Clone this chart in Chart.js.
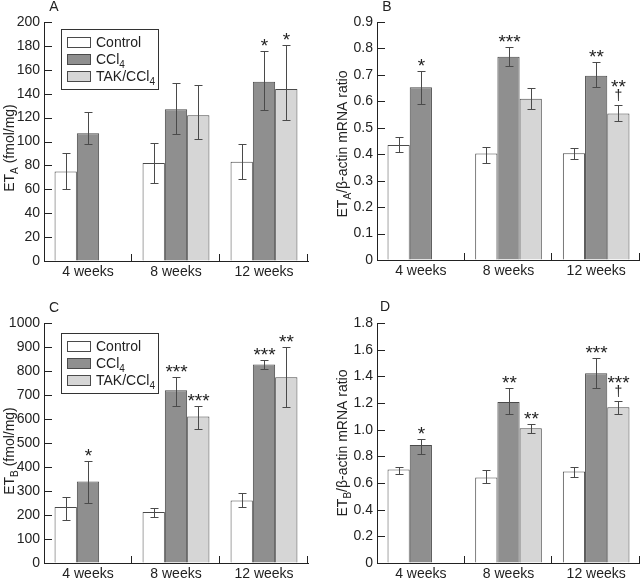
<!DOCTYPE html>
<html>
<head>
<meta charset="utf-8">
<script src="https://cdn.jsdelivr.net/npm/chart.js@4.4.0/dist/chart.umd.min.js"></script>
<style>
  html, body { margin: 0; padding: 0; background: #fff; }
  #fig { position: relative; width: 640px; height: 578px; overflow: hidden; }
  .panel { position: absolute; width: 320px; height: 289px; }
</style>
</head>
<body>
<div id="fig">
  <div class="panel" style="left:0;top:0"><canvas id="chartA" width="320" height="289"></canvas></div>
  <div class="panel" style="left:320px;top:0"><canvas id="chartB" width="320" height="289"></canvas></div>
  <div class="panel" style="left:0;top:289px"><canvas id="chartC" width="320" height="289"></canvas></div>
  <div class="panel" style="left:320px;top:289px"><canvas id="chartD" width="320" height="289"></canvas></div>
</div>
<script>
// Dane wspólne
const categories = ['4 weeks', '8 weeks', '12 weeks'];
const groupLabels = ['Control', 'CCl_4', 'TAK/CCl_4'];   // "_" = indeks dolny
const groupColors = ['#ffffff', '#8f8f8f', '#d6d6d6'];

// Panel A - ETA (fmol/mg)
const aControl = [75, 82, 83];
const aCCl4 = [107, 127, 150];
const aTak = [null, 122, 144];
const aLow = [[60, 65, 69], [98, 106, 126], [null, 102, 118]];
const aHigh = [[90, 99, 98], [125, 149, 176], [null, 147, 181]];
const aStars = [['', '', ''], ['', '', '*'], ['', '', '*']];
const aDaggers = [['', '', ''], ['', '', ''], ['', '', '']];

// Panel B - ETA/beta-actin mRNA
const bControl = [0.435, 0.403, 0.404];
const bCCl4 = [0.653, 0.769, 0.697];
const bTak = [null, 0.61, 0.554];
const bLow = [[0.408, 0.366, 0.382], [0.591, 0.735, 0.653], [null, 0.57, 0.525]];
const bHigh = [[0.464, 0.429, 0.425], [0.716, 0.807, 0.748], [null, 0.65, 0.585]];
const bStars = [['', '', ''], ['*', '***', '**'], ['', '', '**']];
const bDaggers = [['', '', ''], ['', '', ''], ['', '', '†']];

// Panel C - ETB (fmol/mg)
const cControl = [233, 213, 260];
const cCCl4 = [340, 720, 827];
const cTak = [null, 610, 774];
const cLow = [[178, 191, 234], [252, 656, 808], [null, 557, 648]];
const cHigh = [[276, 231, 290], [426, 774, 844], [null, 653, 900]];
const cStars = [['', '', ''], ['*', '***', '***'], ['', '***', '**']];
const cDaggers = [['', '', ''], ['', '', ''], ['', '', '']];

// Panel D - ETB/beta-actin mRNA
const dControl = [0.702, 0.642, 0.687];
const dCCl4 = [0.885, 1.208, 1.424];
const dTak = [null, 1.01, 1.168];
const dLow = [[0.669, 0.597, 0.642], [0.817, 1.116, 1.311], [null, 0.973, 1.118]];
const dHigh = [[0.719, 0.694, 0.717], [0.93, 1.311, 1.537], [null, 1.043, 1.213]];
const dStars = [['', '', ''], ['*', '**', '***'], ['', '**', '***']];
const dDaggers = [['', '', ''], ['', '', ''], ['', '', '†']];

const FONT = "'Liberation Sans', Arial, sans-serif";
const INK = '#222';

// Tekst z indeksem dolnym: znak po "_" jest indeksem
function richParts(str) {
    const parts = [];
    let buf = '';
    for (let i = 0; i < str.length; i++) {
        if (str[i] === '_' && i + 1 < str.length) {
            if (buf) parts.push([buf, false]);
            buf = '';
            parts.push([str[i + 1], true]);
            i++;
        } else {
            buf += str[i];
        }
    }
    if (buf) parts.push([buf, false]);
    return parts;
}

function richWidth(ctx, str, size) {
    let w = 0;
    richParts(str).forEach(([t, sub]) => {
        ctx.font = (sub ? Math.round(size * 0.72) : size) + 'px ' + FONT;
        w += ctx.measureText(t).width;
    });
    return w;
}

function drawRich(ctx, str, x, y, size) {
    ctx.textAlign = 'left';
    ctx.textBaseline = 'alphabetic';
    richParts(str).forEach(([t, sub]) => {
        ctx.font = (sub ? Math.round(size * 0.72) : size) + 'px ' + FONT;
        ctx.fillText(t, x, sub ? y + size * 0.3 : y);
        x += ctx.measureText(t).width;
    });
}

function line(ctx, x1, y1, x2, y2) {
    ctx.beginPath();
    ctx.moveTo(x1, y1);
    ctx.lineTo(x2, y2);
    ctx.stroke();
}

// Dekoracje: ząbki osi, słupki błędów, gwiazdki, legenda, tytuł osi, litera panelu
const decorPlugin = {
    id: 'decor',
    afterDatasetsDraw(chart) {
        const p = chart.options.plugins.decor;
        const ctx = chart.ctx;
        const area = chart.chartArea;
        const xs = chart.scales.x;
        const ys = chart.scales.y;
        ctx.save();
        ctx.strokeStyle = INK;
        ctx.lineWidth = 1;

        // ząbki osi Y do środka
        ys.ticks.forEach(t => {
            const y = Math.round(ys.getPixelForValue(t.value)) + 0.5;
            line(ctx, area.left, y, area.left + 8, y);
        });

        // ząbki na granicach kategorii
        const half = (xs.getPixelForValue(1) - xs.getPixelForValue(0)) / 2;
        categories.forEach((c, i) => {
            const x = Math.round(xs.getPixelForValue(i) + half) - 0.5;
            line(ctx, x, area.bottom, x, area.bottom - 7);
        });

        // słupki błędów i oznaczenia istotności
        ctx.fillStyle = INK;
        ctx.textAlign = 'center';
        ctx.textBaseline = 'alphabetic';
        chart.data.datasets.forEach((ds, i) => {
            const meta = chart.getDatasetMeta(i);
            meta.data.forEach((bar, j) => {
                const lo = p.low[i][j];
                const hi = p.high[i][j];
                if (lo == null) return;
                const x = Math.round(bar.x) + 0.5;
                const yLo = Math.round(ys.getPixelForValue(lo)) + 0.5;
                const yHi = Math.round(ys.getPixelForValue(hi)) + 0.5;
                ctx.strokeStyle = '#4a4a4a';
                line(ctx, x, yLo, x, yHi);
                line(ctx, x - 4, yLo, x + 4, yLo);
                line(ctx, x - 4, yHi, x + 4, yHi);

                let base = yHi;
                const dag = p.daggers[i][j];
                const star = p.stars[i][j];
                ctx.textAlign = 'center';
                if (dag) {
                    ctx.font = '14px ' + FONT;
                    ctx.fillText(dag, x, base - 6);
                    base -= 13;
                }
                if (star) {
                    ctx.font = '19px ' + FONT;
                    ctx.fillText(star, x, base);
                }
            });
        });

        // legenda
        if (p.legend) {
            const lx = area.left + 17;
            const ly = area.top + p.legendTop;
            ctx.strokeStyle = '#333';
            ctx.strokeRect(lx + 0.5, ly + 0.5, 97, 60);
            groupLabels.forEach((lab, k) => {
                const cy = ly + 13 + k * 17;
                ctx.fillStyle = groupColors[k];
                ctx.fillRect(lx + 6, cy - 5, 23, 10);
                ctx.strokeStyle = '#4a4a4a';
                ctx.strokeRect(lx + 6.5, cy - 4.5, 23, 10);
                ctx.fillStyle = INK;
                drawRich(ctx, lab, lx + 35, cy + 5, 14);
            });
        }

        // tytuł osi Y
        ctx.fillStyle = INK;
        const tw = richWidth(ctx, p.title, 14);
        ctx.save();
        ctx.translate(p.titleX, p.titleY);
        ctx.rotate(-Math.PI / 2);
        drawRich(ctx, p.title, -tw / 2, 5, 14);
        ctx.restore();

        // litera panelu
        ctx.font = '14px ' + FONT;
        ctx.textAlign = 'center';
        ctx.textBaseline = 'middle';
        ctx.fillText(p.letter, p.letterX, p.letterY);

        ctx.restore();
    }
};

function makePanel(id, cfg) {
    const ctx = document.getElementById(id).getContext('2d');
    return new Chart(ctx, {
        type: 'bar',
        data: {
            labels: categories,
            datasets: cfg.values.map((vals, k) => ({
                label: groupLabels[k].replace('_4', '₄'),
                data: vals,
                backgroundColor: groupColors[k],
                borderColor: '#4a4a4a',
                borderWidth: 1,
                categoryPercentage: 0.76,
                barPercentage: 1
            }))
        },
        options: {
            responsive: false,
            animation: false,
            layout: { padding: cfg.padding },
            plugins: {
                legend: { display: false },
                tooltip: { enabled: false },
                decor: {
                    low: cfg.low,
                    high: cfg.high,
                    stars: cfg.stars,
                    daggers: cfg.daggers,
                    legend: cfg.legend,
                    legendTop: cfg.legendTop,
                    title: cfg.title,
                    titleX: cfg.titleX,
                    titleY: cfg.titleY,
                    letter: cfg.letter,
                    letterX: cfg.letterX,
                    letterY: cfg.letterY
                }
            },
            scales: {
                x: {
                    z: 1,
                    offset: true,
                    grid: { drawOnChartArea: false, drawTicks: false },
                    border: { display: true, color: INK, width: 1 },
                    ticks: { color: INK, padding: 3, font: { family: FONT, size: 14 } },
                    afterFit: s => { s.height = cfg.xHeight; }
                },
                y: {
                    min: 0,
                    max: cfg.yMax,
                    grid: { drawOnChartArea: false, drawTicks: false },
                    border: { display: true, color: INK, width: 1 },
                    ticks: {
                        stepSize: cfg.yStep,
                        color: INK,
                        padding: 4,
                        font: { family: FONT, size: 14 },
                        callback: v => (v === 0 ? '0' : v.toFixed(cfg.decimals))
                    },
                    afterFit: s => { s.width = cfg.yWidth; }
                }
            }
        },
        plugins: [decorPlugin]
    });
}

makePanel('chartA', {
    values: [aControl, aCCl4, aTak], low: aLow, high: aHigh, stars: aStars, daggers: aDaggers,
    yMax: 200, yStep: 20, decimals: 0, yWidth: 44, xHeight: 28,
    padding: { left: 0, right: 12, top: 22, bottom: 0 },
    legend: true, legendTop: 7,
    title: 'ET_A (fmol/mg)', titleX: 9, titleY: 148,
    letter: 'A', letterX: 54, letterY: 7
});

makePanel('chartB', {
    values: [bControl, bCCl4, bTak], low: bLow, high: bHigh, stars: bStars, daggers: bDaggers,
    yMax: 0.9, yStep: 0.1, decimals: 1, yWidth: 57, xHeight: 29,
    padding: { left: 0, right: 0, top: 22, bottom: 0 },
    legend: false,
    title: 'ET_A/β-actin mRNA ratio', titleX: 22, titleY: 144,
    letter: 'B', letterX: 67, letterY: 7
});

makePanel('chartC', {
    values: [cControl, cCCl4, cTak], low: cLow, high: cHigh, stars: cStars, daggers: cDaggers,
    yMax: 1000, yStep: 100, decimals: 0, yWidth: 44, xHeight: 15,
    padding: { left: 0, right: 12, top: 34, bottom: 0 },
    legend: true, legendTop: 10,
    title: 'ET_B (fmol/mg)', titleX: 9, titleY: 162,
    letter: 'C', letterX: 54, letterY: 19
});

makePanel('chartD', {
    values: [dControl, dCCl4, dTak], low: dLow, high: dHigh, stars: dStars, daggers: dDaggers,
    yMax: 1.8, yStep: 0.2, decimals: 1, yWidth: 57, xHeight: 15,
    padding: { left: 0, right: 0, top: 34, bottom: 0 },
    legend: false,
    title: 'ET_B/β-actin mRNA ratio', titleX: 22, titleY: 154,
    letter: 'D', letterX: 65, letterY: 18
});
</script>
</body>
</html>
